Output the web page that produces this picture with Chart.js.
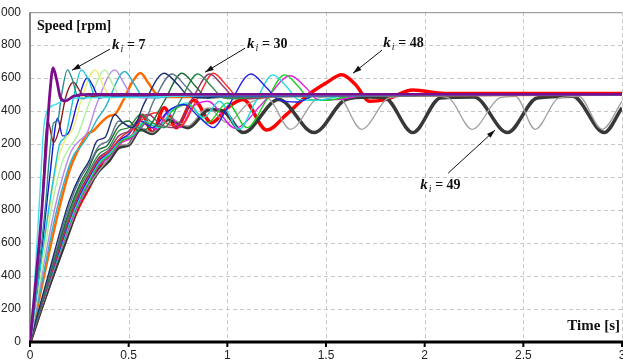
<!DOCTYPE html>
<html>
<head>
<meta charset="utf-8">
<script src="https://cdn.jsdelivr.net/npm/chart.js@4.4.0/dist/chart.umd.min.js"></script>
<style>
  html, body { margin: 0; padding: 0; background: #fff; overflow: hidden; width: 623px; height: 362px; }
  #wrap { position: absolute; left: -20px; top: -4px; width: 652px; height: 366px; }
</style>
</head>
<body>
<div id="wrap"><canvas id="speedChart"></canvas></div>
<script>
// axes
const timeTicks = [0, 0.5, 1, 1.5, 2, 2.5, 3];
const speedTicks = [0, 200, 400, 600, 800, 1000, 1200, 1400, 1600, 1800, 2000];

// speed responses [time s, speed rpm]
const ki7 = [[0,0],[0.03,380],[0.06,800],[0.08,1150],[0.1,1500],[0.117,1662],[0.135,1590],[0.155,1480],[0.18,1462],[0.22,1490],[0.3,1502],[3,1502]];
const tealCurve = [[0,0],[0.04,400],[0.08,850],[0.1,1150],[0.12,1330],[0.14,1340],[0.16,1500],[0.19,1650],[0.215,1590],[0.24,1490],[0.27,1475],[0.32,1500],[3,1500]];
const maroonCurve = [[0,0],[0.05,600],[0.09,1340],[0.12,1210],[0.15,1300],[0.18,1480],[0.22,1575],[0.26,1510],[0.3,1485],[0.35,1495],[3,1500]];
const flatCyan = [[0,0],[0.02,300],[0.05,900],[0.07,1300],[0.1,1420],[0.13,1440],[0.18,1470],[0.25,1480],[0.6,1485],[0.9,1495],[3,1498]];
const cyanCurve = [[0,0],[0.06,520],[0.12,1000],[0.15,1200],[0.18,1250],[0.22,1480],[0.26,1650],[0.3,1580],[0.33,1490],[0.37,1485],[0.45,1500],[3,1500]];
const blueEarly = [[0,0],[0.05,450],[0.1,1000],[0.14,1357],[0.165,1250],[0.2,1280],[0.24,1450],[0.29,1600],[0.32,1550],[0.35,1480],[0.4,1490],[3,1500]];
const yellowCurve = [[0,0],[0.05,420],[0.1,820],[0.14,1100],[0.18,1230],[0.22,1300],[0.26,1470],[0.33,1650],[0.37,1560],[0.41,1480],[0.46,1485],[0.55,1500],[3,1500]];
const lightGreen = [[0,0],[0.06,440],[0.11,820],[0.16,1080],[0.2,1180],[0.24,1250],[0.3,1450],[0.38,1650],[0.42,1560],[0.46,1485],[0.52,1480],[0.6,1495],[3,1500]];
const lavender = [[0,0],[0.06,400],[0.12,780],[0.17,1020],[0.21,1160],[0.25,1220],[0.29,1270],[0.34,1450],[0.43,1650],[0.48,1560],[0.52,1490],[0.58,1480],[0.7,1495],[3,1500]];
const cyanLate = [[0,0],[0.06,360],[0.12,720],[0.17,960],[0.22,1130],[0.26,1190],[0.3,1260],[0.34,1350],[0.38,1420],[0.48,1640],[0.53,1560],[0.57,1490],[0.63,1480],[0.75,1495],[3,1500]];
const orangeCurve = [[0,0],[0.05,280],[0.1,560],[0.15,820],[0.2,1040],[0.25,1180],[0.29,1260],[0.32,1280],[0.36,1330],[0.4,1370],[0.43,1380],[0.47,1460],[0.52,1580],[0.56,1632],[0.6,1570],[0.64,1505],[0.7,1485],[1.0,1490],[3,1500]];
const navyCurve = [[0,0],[0.05,220],[0.1,440],[0.15,660],[0.2,860],[0.25,1000],[0.3,1100],[0.34,1220],[0.38,1240],[0.43,1380],[0.47,1330],[0.52,1300],[0.58,1450],[0.68,1630],[0.75,1560],[0.8,1495],[0.88,1480],[1.0,1495],[3,1500]];
const slateCurve = [[0,0],[0.05,210],[0.1,420],[0.15,630],[0.2,830],[0.25,980],[0.3,1080],[0.35,1190],[0.4,1225],[0.45,1340],[0.5,1310],[0.56,1300],[0.63,1470],[0.72,1625],[0.79,1550],[0.85,1485],[0.95,1485],[3,1500]];
const darkGreen = [[0,0],[0.05,205],[0.1,410],[0.15,610],[0.2,800],[0.25,950],[0.3,1060],[0.34,1160],[0.39,1190],[0.45,1310],[0.5,1340],[0.55,1280],[0.6,1300],[0.68,1460],[0.77,1630],[0.84,1550],[0.9,1480],[1.0,1485],[3,1500]];
const forestGreen = [[0,0],[0.05,200],[0.1,400],[0.15,600],[0.2,780],[0.25,930],[0.3,1040],[0.35,1140],[0.4,1180],[0.45,1280],[0.5,1300],[0.56,1380],[0.62,1330],[0.68,1300],[0.76,1460],[0.85,1625],[0.92,1550],[0.98,1480],[1.05,1475],[1.2,1495],[3,1500]];
const mauveCurve = [[0,0],[0.05,195],[0.1,390],[0.15,585],[0.2,760],[0.25,910],[0.3,1020],[0.35,1120],[0.4,1165],[0.45,1250],[0.5,1280],[0.55,1350],[0.6,1380],[0.66,1320],[0.73,1300],[0.82,1470],[0.91,1625],[0.98,1550],[1.04,1480],[1.12,1475],[1.25,1495],[3,1500]];
const ki30 = [[0,0],[0.05,195],[0.1,385],[0.15,575],[0.2,750],[0.25,900],[0.3,1010],[0.35,1110],[0.4,1155],[0.46,1240],[0.52,1290],[0.58,1360],[0.64,1390],[0.7,1320],[0.76,1310],[0.85,1480],[0.93,1630],[1.0,1550],[1.06,1480],[1.14,1480],[1.3,1495],[3,1500]];
const blueLate = [[0,0],[0.05,190],[0.1,380],[0.15,560],[0.2,740],[0.25,885],[0.3,1000],[0.35,1100],[0.4,1150],[0.45,1220],[0.5,1260],[0.56,1340],[0.62,1300],[0.7,1400],[0.78,1440],[0.86,1360],[0.93,1300],[1.0,1420],[1.12,1625],[1.2,1540],[1.26,1470],[1.35,1455],[1.45,1495],[3,1500]];
const cyanSlow = [[0,0],[0.05,190],[0.1,375],[0.15,550],[0.2,725],[0.25,870],[0.3,990],[0.35,1090],[0.4,1140],[0.46,1225],[0.52,1255],[0.58,1340],[0.65,1300],[0.72,1410],[0.8,1450],[0.88,1360],[0.96,1460],[1.06,1290],[1.14,1450],[1.23,1620],[1.3,1550],[1.36,1470],[1.45,1465],[1.6,1495],[3,1500]];
const greenSlow = [[0,0],[0.05,185],[0.1,370],[0.15,545],[0.2,715],[0.25,860],[0.3,975],[0.35,1080],[0.4,1130],[0.46,1215],[0.52,1250],[0.58,1330],[0.65,1300],[0.72,1400],[0.8,1440],[0.9,1330],[1.0,1450],[1.1,1300],[1.2,1470],[1.29,1620],[1.36,1550],[1.42,1470],[1.5,1465],[1.65,1495],[3,1500]];
const magentaSlow = [[0,0],[0.05,185],[0.1,365],[0.15,540],[0.2,705],[0.25,850],[0.3,965],[0.35,1070],[0.4,1120],[0.46,1205],[0.52,1240],[0.58,1320],[0.64,1290],[0.7,1390],[0.76,1300],[0.82,1420],[0.9,1460],[1.04,1297],[1.18,1450],[1.32,1615],[1.4,1540],[1.46,1470],[1.55,1470],[1.7,1495],[3,1500]];
const ki47 = [[0,0],[0.05,185],[0.1,360],[0.15,530],[0.2,690],[0.25,840],[0.3,950],[0.35,1040],[0.4,1110],[0.45,1190],[0.5,1200],[0.56,1300],[0.62,1270],[0.7,1360],[0.8,1310],[0.9,1420],[1.0,1330],[1.1,1440],[1.2,1480],[1.32,1290],[1.46,1480],[1.56,1490],[1.68,1290],[1.82,1480],[2.0,1495],[2.12,1480],[2.24,1290],[2.38,1480],[2.46,1490],[2.56,1290],[2.68,1480],[2.78,1490],[2.9,1290],[3,1460]];
const ki48 = [[0,0],[0.05,180],[0.1,355],[0.15,520],[0.2,685],[0.25,830],[0.3,940],[0.37,1100],[0.42,1140],[0.47,1230],[0.52,1250],[0.57,1375],[0.62,1270],[0.68,1420],[0.74,1300],[0.83,1467],[0.92,1330],[1.0,1420],[1.08,1470],[1.2,1285],[1.3,1380],[1.4,1490],[1.5,1570],[1.58,1620],[1.65,1560],[1.72,1460],[1.8,1470],[1.94,1528],[2.1,1507],[2.3,1507],[3,1507]];
const ki49 = [[0,0],[0.05,180],[0.1,350],[0.15,515],[0.2,680],[0.25,850],[0.3,950],[0.35,1040],[0.4,1100],[0.45,1180],[0.5,1195],[0.56,1290],[0.62,1265],[0.7,1350],[0.8,1300],[0.91,1410],[0.98,1400],[1.08,1270],[1.26,1470],[1.44,1270],[1.6,1470],[1.72,1485],[1.8,1480],[1.94,1270],[2.08,1480],[2.25,1485],[2.42,1270],[2.57,1480],[2.75,1490],[2.91,1270],[3,1420]];

const series = [ki7, flatCyan, tealCurve, maroonCurve, cyanCurve, blueEarly, yellowCurve, lightGreen, lavender, cyanLate,
  navyCurve, slateCurve, darkGreen, forestGreen, mauveCurve, ki30, blueLate, cyanSlow, greenSlow, magentaSlow,
  orangeCurve, ki47, ki49, ki48];
const colors = ['#7B0C8C', '#40E0F0', '#2A8C8C', '#8B1C1C', '#17C3D6', '#1515D0', '#EEEE70', '#B0F0A0', '#B68BE8', '#2BB5C5',
  '#1A2F6E', '#5F7389', '#1A6B35', '#2F8F4F', '#8B3A6B', '#FF2A2A', '#2020F0', '#22DADA', '#1FCB1F', '#E020E0',
  '#FF6A00', '#A0A0A0', '#383838', '#FF0000'];
const widths = [2.8, 1.4, 1.4, 1.4, 1.4, 1.4, 1.4, 1.4, 1.4, 1.4, 1.4, 1.4, 1.4, 1.4, 1.4, 1.4, 1.4, 1.4, 1.4, 1.4,
  2.5, 1.3, 3.5, 3.5];

// grid, axes and labels drawn by hand
const framePlugin = {
  id: 'frame',
  beforeDatasetsDraw(chart) {
    const { ctx, chartArea: a, scales: { x, y } } = chart;
    ctx.save();
    ctx.strokeStyle = '#C8C8C8';
    ctx.lineWidth = 1;
    ctx.setLineDash([4, 3]);
    timeTicks.slice(1).forEach(t => {
      const px = Math.round(x.getPixelForValue(t)) + 0.5;
      ctx.beginPath(); ctx.moveTo(px, a.top); ctx.lineTo(px, a.bottom); ctx.stroke();
    });
    speedTicks.slice(1, -1).forEach(v => {
      const py = Math.round(y.getPixelForValue(v)) + 0.5;
      ctx.beginPath(); ctx.moveTo(a.left, py); ctx.lineTo(a.right, py); ctx.stroke();
    });
    ctx.setLineDash([]);
    ctx.strokeStyle = '#8A8A8A';
    ctx.beginPath(); ctx.moveTo(a.left, a.top + 0.5); ctx.lineTo(a.right, a.top + 0.5); ctx.stroke();
    ctx.lineWidth = 2;
    ctx.beginPath(); ctx.moveTo(a.left, a.top); ctx.lineTo(a.left, a.bottom); ctx.stroke();
    ctx.restore();
  },
  afterDatasetsDraw(chart) {
    const { ctx, chartArea: a, scales: { x, y } } = chart;
    ctx.save();
    ctx.strokeStyle = '#000';
    ctx.lineWidth = 3;
    ctx.beginPath(); ctx.moveTo(a.left - 1, a.bottom); ctx.lineTo(a.right + 10, a.bottom); ctx.stroke();
    ctx.lineWidth = 2;
    timeTicks.forEach(t => {
      const px = x.getPixelForValue(t);
      ctx.beginPath(); ctx.moveTo(px, a.bottom); ctx.lineTo(px, a.bottom + 5); ctx.stroke();
    });

    ctx.fillStyle = '#111';
    ctx.font = 'bold 14px "Liberation Serif"';
    ctx.textBaseline = 'middle';
    ctx.fillText('Speed [rpm]', a.left + 7, a.top + 14);
    ctx.textAlign = 'right';
    ctx.font = 'bold 15px "Liberation Serif"';
    ctx.fillText('Time [s]', a.right - 2, a.bottom - 16);

    const label = (tx, ty, val, fromT, fromV, toT, toV) => {
      const px = x.getPixelForValue(tx), py = y.getPixelForValue(ty);
      ctx.textAlign = 'left';
      ctx.font = 'bold italic 15px "Liberation Serif"';
      ctx.fillText('k', px, py);
      const kw = ctx.measureText('k').width;
      ctx.font = 'italic 10px "Liberation Serif"';
      ctx.fillText('i', px + kw + 1, py + 4);
      ctx.font = 'bold 14px "Liberation Serif"';
      ctx.fillText(' = ' + val, px + kw + 4, py);
      const x1 = x.getPixelForValue(fromT), y1 = y.getPixelForValue(fromV);
      const x2 = x.getPixelForValue(toT), y2 = y.getPixelForValue(toV);
      ctx.strokeStyle = '#111';
      ctx.lineWidth = 1;
      ctx.beginPath(); ctx.moveTo(x1, y1); ctx.lineTo(x2, y2); ctx.stroke();
      const ang = Math.atan2(y2 - y1, x2 - x1);
      ctx.beginPath();
      ctx.moveTo(x2, y2);
      ctx.lineTo(x2 - 9 * Math.cos(ang - 0.3), y2 - 9 * Math.sin(ang - 0.3));
      ctx.lineTo(x2 - 9 * Math.cos(ang + 0.3), y2 - 9 * Math.sin(ang + 0.3));
      ctx.closePath(); ctx.fill();
    };
    label(0.416, 1800, 7, 0.405, 1776, 0.213, 1648);
    label(1.1, 1805, 30, 1.09, 1782, 0.887, 1636);
    label(1.79, 1812, 48, 1.784, 1770, 1.637, 1630);
    label(1.977, 951, 49, 2.119, 1024, 2.357, 1285);
    ctx.restore();
  }
};

new Chart(document.getElementById('speedChart'), {
  type: 'line',
  data: {
    datasets: series.map((pts, i) => ({
      data: pts.map(p => ({ x: p[0], y: p[1] })),
      borderColor: colors[i],
      borderWidth: widths[i],
      pointRadius: 0,
      cubicInterpolationMode: 'monotone',
      fill: false
    }))
  },
  options: {
    responsive: true,
    maintainAspectRatio: false,
    animation: false,
    events: [],
    layout: { padding: { top: 8, right: 10, bottom: 0, left: 0 } },
    plugins: { legend: { display: false }, tooltip: { enabled: false } },
    scales: {
      x: {
        type: 'linear', min: 0, max: 3,
        afterBuildTicks: s => { s.ticks = timeTicks.map(v => ({ value: v })); },
        afterFit: s => { s.height = 20; },
        grid: { display: false, drawTicks: false },
        border: { display: false },
        ticks: { padding: 6, color: '#222', font: { family: 'Liberation Sans', size: 12 }, maxRotation: 0, callback: v => String(v) }
      },
      y: {
        type: 'linear', min: 0, max: 2000,
        afterBuildTicks: s => { s.ticks = speedTicks.map(v => ({ value: v })); },
        afterFit: s => { s.width = 50; },
        grid: { display: false, drawTicks: false },
        border: { display: false },
        ticks: { padding: 9, color: '#222', font: { family: 'Liberation Sans', size: 12 } }
      }
    }
  },
  plugins: [framePlugin]
});
</script>
</body>
</html>
